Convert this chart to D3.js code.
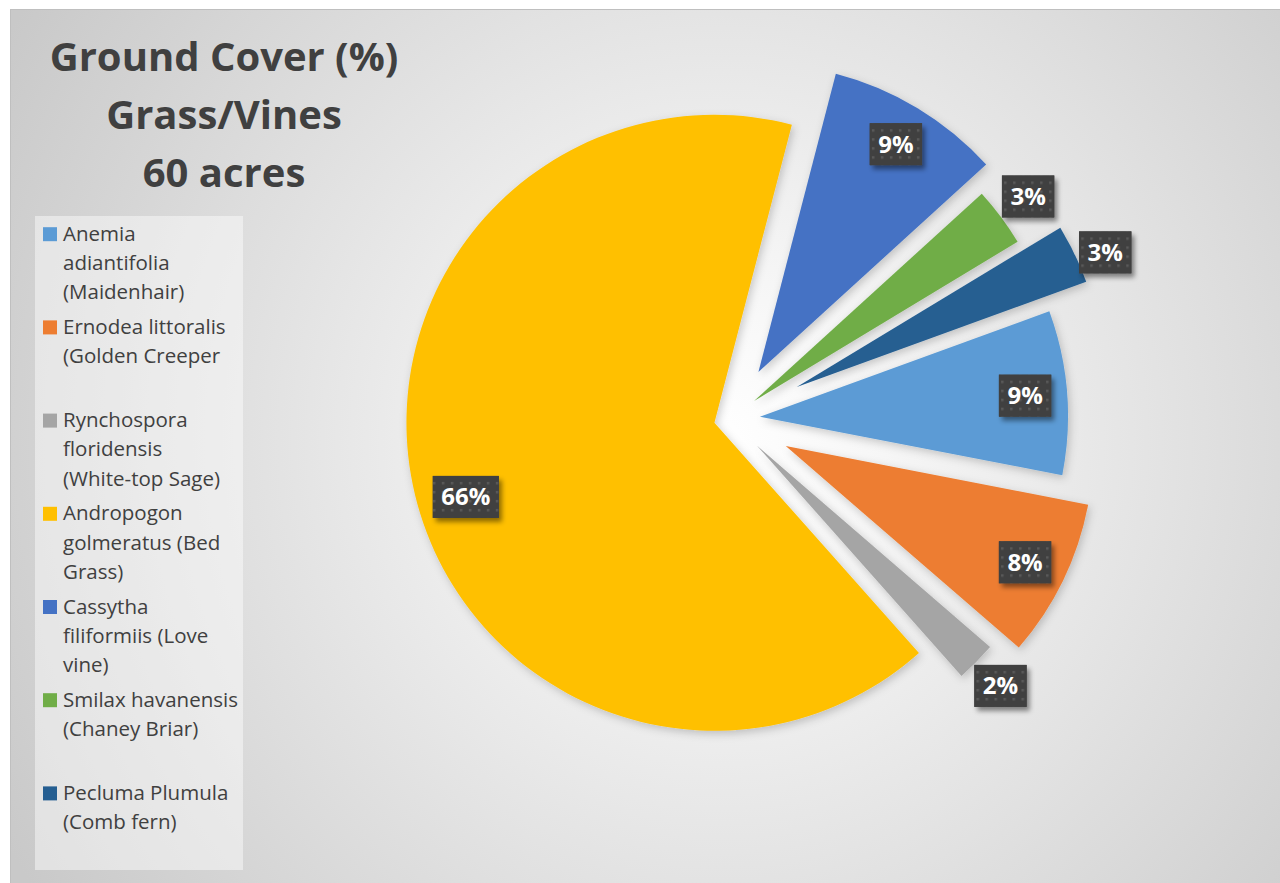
<!DOCTYPE html>
<html>
<head>
<meta charset="utf-8">
<script src="https://d3js.org/d3.v7.min.js"></script>
<style>
  body { margin: 0; background: #fff; }
  svg { display: block; }
</style>
</head>
<body>
<script>
// chart size
var svgWidth = 1280;
var svgHeight = 883;

// data (share of 60 acres, percent)
var species = ['Anemia adiantifolia (Maidenhair)', 'Ernodea littoralis (Golden Creeper',
  'Rynchospora floridensis (White-top Sage)', 'Andropogon golmeratus (Bed Grass)',
  'Cassytha filiformiis (Love vine)', 'Smilax havanensis (Chaney Briar)', 'Pecluma Plumula (Comb fern)'];
var shares = [8.6, 8.3, 2.1, 65.6, 9.2, 3.1, 3.1];
// legend text as it wraps in the original
var legendLines = [
  ['Anemia', 'adiantifolia', '(Maidenhair)'],
  ['Ernodea littoralis', '(Golden Creeper', ''],
  ['Rynchospora', 'floridensis', '(White-top Sage)'],
  ['Andropogon', 'golmeratus (Bed', 'Grass)'],
  ['Cassytha', 'filiformiis (Love', 'vine)'],
  ['Smilax havanensis', '(Chaney Briar)', ''],
  ['Pecluma Plumula', '(Comb fern)', '']
];
var titleLines = ['Ground Cover (%)', 'Grass/Vines', '60 acres'];

// styles
var colors = ['#5B9BD5', '#ED7D31', '#A5A5A5', '#FFC000', '#4472C4', '#70AD47', '#255E91'];
var explode = [30, 62, 38, 16, 55, 30, 74]; // pixels each slice is pulled out
var labelNudge = [[0, 0], [0, 0], [0, 0], [10, 12], [0, 0], [0, 0], [0, 13]];
var cx = 730, cy = 419, radius = 308;
var startDeg = 70;
var fontFam = '"Open Sans", Lato, sans-serif';

var svg = d3.select('body').append('svg')
  .attr('width', svgWidth)
  .attr('height', svgHeight);

var defs = svg.append('defs');

var grad = defs.append('radialGradient')
  .attr('id', 'bg')
  .attr('gradientUnits', 'userSpaceOnUse')
  .attr('cx', 720).attr('cy', 440).attr('r', 820);
grad.append('stop').attr('offset', '0').attr('stop-color', '#ffffff');
grad.append('stop').attr('offset', '0.2').attr('stop-color', '#f6f6f6');
grad.append('stop').attr('offset', '1').attr('stop-color', '#c9c9c9');

var shadow = defs.append('filter').attr('id', 'sliceShadow')
  .attr('x', '-20%').attr('y', '-20%').attr('width', '140%').attr('height', '140%');
shadow.append('feDropShadow')
  .attr('dx', 2).attr('dy', 3).attr('stdDeviation', 4)
  .attr('flood-color', '#000').attr('flood-opacity', 0.2);

var boxShadow = defs.append('filter').attr('id', 'boxShadow')
  .attr('x', '-30%').attr('y', '-30%').attr('width', '160%').attr('height', '160%');
boxShadow.append('feDropShadow')
  .attr('dx', 3).attr('dy', 4).attr('stdDeviation', 2.5)
  .attr('flood-color', '#000').attr('flood-opacity', 0.45);

var dots = defs.append('pattern').attr('id', 'dots')
  .attr('patternUnits', 'userSpaceOnUse')
  .attr('width', 9).attr('height', 9);
dots.append('rect').attr('width', 9).attr('height', 9).attr('fill', '#404040');
dots.append('rect').attr('x', 3).attr('y', 3).attr('width', 2.5).attr('height', 2.5).attr('fill', '#595959');

// chart area
svg.append('rect')
  .attr('x', 10.5).attr('y', 9.5)
  .attr('width', svgWidth).attr('height', svgHeight)
  .attr('fill', 'url(#bg)')
  .attr('stroke', '#bfbfbf');

// title
svg.append('g').selectAll('text')
  .data(titleLines)
  .enter().append('text')
  .attr('x', 224)
  .attr('y', function(d, i) { return 71 + i * 58; })
  .attr('text-anchor', 'middle')
  .attr('font-family', fontFam)
  .attr('font-weight', 'bold')
  .attr('font-size', 40)
  .attr('fill', '#404040')
  .text(function(d) { return d; });

// legend
var lineH = 29.4, itemStep = 93.2, legTop = 240.7;
svg.append('rect')
  .attr('x', 35).attr('y', 216)
  .attr('width', 208).attr('height', 654)
  .attr('fill', '#ffffff').attr('fill-opacity', 0.45);

var leg = svg.append('g').selectAll('g')
  .data(legendLines)
  .enter().append('g')
  .attr('transform', function(d, i) { return 'translate(0,' + (legTop + i * itemStep) + ')'; });

leg.append('rect')
  .attr('x', 43).attr('y', -13.5)
  .attr('width', 14).attr('height', 14)
  .attr('fill', function(d, i) { return colors[i]; });

leg.selectAll('text')
  .data(function(d) { return d; })
  .enter().append('text')
  .attr('x', 63)
  .attr('y', function(d, i) { return i * lineH; })
  .attr('font-family', fontFam)
  .attr('font-size', 20.5)
  .attr('fill', '#404040')
  .text(function(d) { return d; });

// pie
var toRad = Math.PI / 180;
var pie = d3.pie().sort(null).value(function(d) { return d; })
  .startAngle(startDeg * toRad).endAngle(startDeg * toRad + 2 * Math.PI);
var arcs = pie(shares);
var arc = d3.arc().innerRadius(0).outerRadius(radius);

function apex(d, i) {
  var a = (d.startAngle + d.endAngle) / 2;
  return [cx + explode[i] * Math.sin(a), cy - explode[i] * Math.cos(a)];
}

svg.append('g').selectAll('path')
  .data(arcs)
  .enter().append('path')
  .attr('transform', function(d, i) { var p = apex(d, i); return 'translate(' + p[0] + ',' + p[1] + ')'; })
  .attr('d', arc)
  .attr('fill', function(d, i) { return colors[i]; })
  .attr('filter', 'url(#sliceShadow)');

// data labels
var labels = svg.append('g').selectAll('g')
  .data(arcs)
  .enter().append('g')
  .attr('transform', function(d, i) {
    var p = apex(d, i);
    var a = (d.startAngle + d.endAngle) / 2;
    var r = d.data >= 5 ? 266 : 342;
    var x = p[0] + r * Math.sin(a) + labelNudge[i][0];
    var y = p[1] - r * Math.cos(a) + labelNudge[i][1];
    return 'translate(' + x + ',' + y + ')';
  });

labels.each(function(d) {
  var g = d3.select(this);
  var txt = Math.round(d.data) + '%';
  var box = g.append('rect').attr('filter', 'url(#boxShadow)').attr('fill', '#404040');
  var pat = g.append('rect').attr('fill', 'url(#dots)');
  var t = g.append('text')
    .attr('text-anchor', 'middle')
    .attr('y', 8.5)
    .attr('font-family', fontFam)
    .attr('font-weight', 'bold')
    .attr('font-size', 24)
    .attr('fill', '#ffffff')
    .text(txt);
  var w = t.node().getComputedTextLength() + 17;
  box.attr('x', -w / 2).attr('y', -21).attr('width', w).attr('height', 42);
  pat.attr('x', -w / 2).attr('y', -21).attr('width', w).attr('height', 42);
});
</script>
</body>
</html>
